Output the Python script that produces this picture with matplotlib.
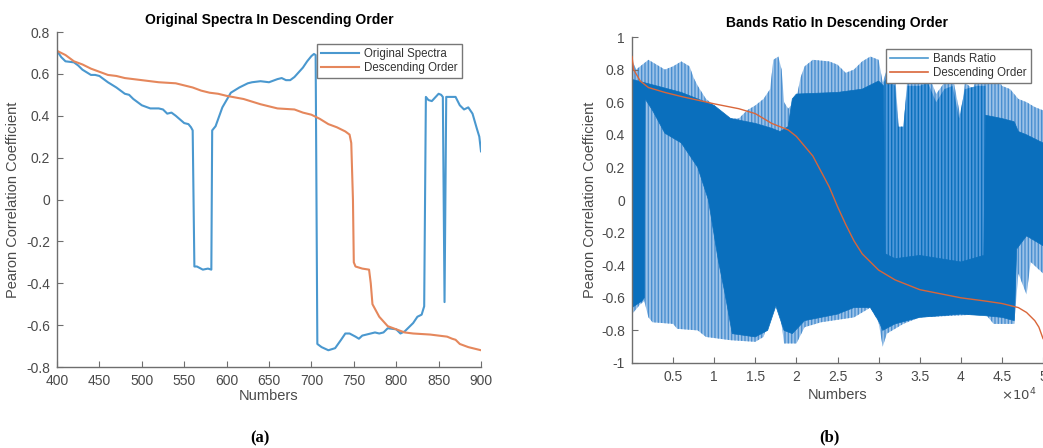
import numpy as np
import matplotlib
matplotlib.use("Agg")
import matplotlib.pyplot as plt
from matplotlib.lines import Line2D

plt.rcParams['font.family'] = ['Liberation Sans', 'DejaVu Sans']
plt.rcParams['hatch.linewidth'] = 1.0

# ---------------- data: panel (a) ----------------
orig_x = [400, 405, 410, 420, 425, 430, 440, 445, 450, 460, 470, 480, 485, 490, 500, 510, 520, 525,
          530, 535, 540, 550, 555, 558, 560, 562, 565, 572, 578, 582, 583, 587, 595, 605, 615, 625,
          630, 640, 650, 660, 665, 670, 675, 680, 690, 695, 700, 703, 705, 707, 712, 720, 728, 735,
          740, 745, 752, 756, 760, 770, 775, 780, 785, 790, 800, 805, 810, 820, 825, 830, 833, 835,
          838, 842, 850, 853, 855, 857, 859, 865, 870, 875, 880, 885, 890, 895, 898, 900]
orig_y = [0.71, 0.68, 0.66, 0.655, 0.64, 0.62, 0.595, 0.595, 0.59, 0.56, 0.535, 0.505, 0.50, 0.48,
          0.45, 0.435, 0.435, 0.43, 0.41, 0.415, 0.40, 0.365, 0.36, 0.345, 0.33, -0.32, -0.32, -0.335,
          -0.33, -0.335, 0.33, 0.35, 0.44, 0.51, 0.535, 0.555, 0.56, 0.565, 0.56, 0.575, 0.58, 0.57,
          0.57, 0.585, 0.63, 0.66, 0.685, 0.695, 0.69, -0.69, -0.705, -0.72, -0.71, -0.67, -0.64,
          -0.64, -0.655, -0.665, -0.65, -0.64, -0.635, -0.64, -0.635, -0.615, -0.62, -0.64, -0.63,
          -0.59, -0.56, -0.55, -0.51, 0.49, 0.475, 0.47, 0.505, 0.50, 0.49, -0.49, 0.49, 0.49, 0.49,
          0.45, 0.43, 0.44, 0.41, 0.34, 0.30, 0.23]

desc_x = [400, 410, 420, 430, 440, 450, 460, 470, 480, 500, 520, 540, 550, 560, 570, 580, 590, 600,
          620, 640, 660, 680, 690, 700, 710, 720, 730, 740, 745, 747, 749, 750, 752, 760, 768, 770,
          772, 776, 780, 790, 800, 810, 820, 840, 850, 860, 866, 870, 875, 885, 900]
desc_y = [0.71, 0.69, 0.66, 0.645, 0.625, 0.61, 0.595, 0.59, 0.58, 0.57, 0.56, 0.555, 0.545, 0.535,
          0.52, 0.51, 0.505, 0.495, 0.48, 0.455, 0.435, 0.43, 0.415, 0.405, 0.385, 0.36, 0.345, 0.325,
          0.31, 0.27, 0.0, -0.30, -0.32, -0.33, -0.335, -0.40, -0.50, -0.53, -0.56, -0.605, -0.62,
          -0.635, -0.64, -0.645, -0.65, -0.655, -0.665, -0.67, -0.69, -0.705, -0.72]

a_xticks = [400, 450, 500, 550, 600, 650, 700, 750, 800, 850, 900]
a_yticks = [-0.8, -0.6, -0.4, -0.2, 0, 0.2, 0.4, 0.6, 0.8]
a_yticklabels = ['-0.8', '-0.6', '-0.4', '-0.2', '0', '0.2', '0.4', '0.6', '0.8']

# ---------------- data: panel (b) (x in units of 10^4) ----------------
# outer (light striped) envelope of the Bands Ratio trace
light_up_x = [0, 0.05, 0.1, 0.2, 0.3, 0.4, 0.5, 0.6, 0.7, 0.75, 0.8, 0.9, 1.0, 1.1, 1.2, 1.3, 1.4, 1.5,
              1.6, 1.68, 1.72, 1.78, 1.82, 1.85, 1.9, 2.0, 2.05, 2.1, 2.2, 2.4, 2.5, 2.6, 2.7, 2.8, 2.9,
              3.0, 3.05, 3.1, 3.2, 3.25, 3.3, 3.35, 3.5, 3.6, 3.7, 3.8, 3.9, 4.0, 4.05, 4.15, 4.2, 4.3,
              4.4, 4.5, 4.6, 4.7, 4.8, 4.9, 5.0]
light_up_y = [0.86, 0.80, 0.82, 0.86, 0.83, 0.80, 0.82, 0.85, 0.82, 0.75, 0.70, 0.62, 0.58, 0.52, 0.50,
              0.50, 0.55, 0.58, 0.62, 0.68, 0.86, 0.88, 0.80, 0.60, 0.56, 0.62, 0.75, 0.82, 0.86, 0.85,
              0.83, 0.78, 0.80, 0.85, 0.88, 0.86, 0.72, 0.80, 0.78, 0.40, 0.42, 0.75, 0.75, 0.78, 0.65,
              0.72, 0.76, 0.50, 0.72, 0.68, 0.78, 0.75, 0.80, 0.70, 0.68, 0.62, 0.60, 0.57, 0.55]
light_lo_x = [0, 0.1, 0.15, 0.2, 0.25, 0.5, 0.55, 0.8, 0.9, 1.2, 1.5, 1.6, 1.7, 1.75, 1.8, 1.85, 2.0,
              2.1, 2.3, 2.7, 2.9, 3.0, 3.05, 3.1, 3.3, 3.5, 4.3, 4.4, 4.65, 4.7, 4.8, 4.85, 5.0]
light_lo_y = [-0.70, -0.64, -0.62, -0.72, -0.75, -0.76, -0.79, -0.80, -0.84, -0.86, -0.87, -0.84, -0.68,
              -0.62, -0.68, -0.88, -0.88, -0.78, -0.75, -0.72, -0.66, -0.75, -0.90, -0.82, -0.76,
              -0.72, -0.70, -0.76, -0.76, -0.45, -0.58, -0.38, -0.45]

# medium striped block of the trace between 3.06 and 4.3 (x10^4)
mid_up_x = [3.06, 3.1, 3.2, 3.24, 3.3, 3.35, 3.5, 3.6, 3.7, 3.8, 3.9, 3.98, 4.05, 4.2, 4.3]
mid_up_y = [0.72, 0.75, 0.70, 0.45, 0.45, 0.70, 0.70, 0.72, 0.60, 0.68, 0.70, 0.50, 0.68, 0.70, 0.70]
mid_lo_x = [3.06, 3.5, 4.0, 4.3]
mid_lo_y = [-0.46, -0.44, -0.48, -0.44]

# dense (dark) core of the trace
dark_up_x = [0, 0.3, 0.6, 0.8, 1.0, 1.1, 1.2, 1.5, 1.7, 1.8, 1.9, 1.95, 2.0, 2.5, 2.8, 3.0, 3.06, 3.08,
             3.2, 3.5, 4.0, 4.28, 4.3, 4.5, 4.65, 4.7, 4.8, 5.0]
dark_up_y = [0.74, 0.70, 0.66, 0.62, 0.58, 0.54, 0.50, 0.47, 0.44, 0.42, 0.45, 0.62, 0.65, 0.66, 0.68,
             0.73, 0.70, -0.33, -0.36, -0.34, -0.38, -0.34, 0.52, 0.50, 0.48, 0.42, 0.40, 0.35]
dark_lo_x = [0, 0.12, 0.15, 0.16, 0.25, 0.4, 0.6, 0.8, 0.93, 1.05, 1.13, 1.22, 1.5, 1.65, 1.75, 1.85,
             1.95, 2.1, 2.5, 2.7, 2.9, 3.0, 3.05, 3.2, 3.5, 4.0, 4.3, 4.5, 4.65, 4.68, 4.8, 5.0]
dark_lo_y = [-0.66, -0.62, -0.60, 0.62, 0.55, 0.41, 0.35, 0.20, 0.0, -0.37, -0.57, -0.82, -0.84, -0.80,
             -0.65, -0.80, -0.82, -0.74, -0.70, -0.66, -0.66, -0.74, -0.80, -0.76, -0.72, -0.70, -0.71,
             -0.72, -0.74, -0.30, -0.22, -0.28]

bdesc_x = [0, 0.02, 0.1, 0.2, 0.4, 0.6, 1.0, 1.3, 1.5, 1.7, 1.9, 2.0, 2.2, 2.4, 2.5, 2.6, 2.7, 2.8, 3.0,
           3.2, 3.5, 3.8, 4.0, 4.3, 4.5, 4.7, 4.8, 4.9, 4.95, 5.0]
bdesc_y = [0.88, 0.80, 0.73, 0.69, 0.66, 0.635, 0.59, 0.56, 0.53, 0.47, 0.43, 0.39, 0.27, 0.08, -0.04,
           -0.15, -0.25, -0.33, -0.43, -0.49, -0.55, -0.58, -0.60, -0.62, -0.635, -0.66, -0.69, -0.74,
           -0.78, -0.85]

b_xticks = [0.5, 1, 1.5, 2, 2.5, 3, 3.5, 4, 4.5, 5]
b_xticklabels = ['0.5', '1', '1.5', '2', '2.5', '3', '3.5', '4', '4.5', '5']
b_yticks = [-1, -0.8, -0.6, -0.4, -0.2, 0, 0.2, 0.4, 0.6, 0.8, 1]
b_yticklabels = ['-1', '-0.8', '-0.6', '-0.4', '-0.2', '0', '0.2', '0.4', '0.6', '0.8', '1']

SCALE = 1e4
BLUE = '#4a98cf'
ORANGE = '#e5875c'
DARK = '#0a6fbd'
AX_COL = '#6e6e6e'
TXT_COL = '#4a4a4a'

fig = plt.figure(figsize=(10.43, 4.48), dpi=100)


def style_axes(ax):
    for s in ['top', 'right']:
        ax.spines[s].set_visible(False)
    for s in ['left', 'bottom']:
        ax.spines[s].set_color(AX_COL)
        ax.spines[s].set_linewidth(1.0)
    ax.tick_params(direction='in', length=4, width=0.8, color=AX_COL, labelcolor=TXT_COL,
                   labelsize=10, pad=5)


def legend_style(ax, *args):
    leg = ax.legend(*args, loc='upper left', fontsize=8.3, frameon=True, fancybox=False,
                    framealpha=1, edgecolor='#777777', handlelength=3.3, borderpad=0.35,
                    labelspacing=0.2, handletextpad=0.45, borderaxespad=0)
    leg.get_frame().set_linewidth(1.0)
    for t in leg.get_texts():
        t.set_color('#333333')
    return leg


# ---------- panel (a) ----------
ax1 = fig.add_axes([57 / 1043, 1 - 367 / 448, (481 - 57) / 1043, (367 - 32) / 448])
ax1.plot(orig_x, orig_y, color=BLUE, lw=1.5, label='Original Spectra')
ax1.plot(desc_x, desc_y, color=ORANGE, lw=1.5, label='Descending Order')
ax1.set_xlim(400, 900)
ax1.set_ylim(-0.8, 0.8)
ax1.set_xticks(a_xticks)
ax1.set_yticks(a_yticks)
ax1.set_yticklabels(a_yticklabels)
style_axes(ax1)
ax1.set_title('Original Spectra In Descending Order', fontsize=10, fontweight='bold', pad=6)
ax1.set_xlabel('Numbers', fontsize=10.5, color=TXT_COL, labelpad=1)
ax1.set_ylabel('Pearon Correlation Coefficient', fontsize=10.5, color=TXT_COL, labelpad=4)
leg1 = legend_style(ax1)
leg1.set_bbox_to_anchor(((317 - 57) / 424, (367 - 44) / 335), transform=ax1.transAxes)

# ---------- panel (b) ----------
ax2 = fig.add_axes([632 / 1043, 1 - 363 / 448, (1043 - 632) / 1043, (363 - 37) / 448])


def poly(ax, ux, uy, lx, ly, **kw):
    ux = np.asarray(ux) * SCALE
    lx = np.asarray(lx) * SCALE
    ax.fill(np.concatenate([ux, lx[::-1]]), np.concatenate([uy, ly[::-1]]), **kw)


poly(ax2, light_up_x, light_up_y, light_lo_x, light_lo_y,
     facecolor='#9cc2e8', edgecolor='#4a8fd0', hatch='|||||', linewidth=0, zorder=1)
poly(ax2, mid_up_x, mid_up_y, mid_lo_x, mid_lo_y,
     facecolor='#4f98da', edgecolor='#0a6fbd', hatch='|||||', linewidth=0, zorder=1.5)
poly(ax2, dark_up_x, dark_up_y, dark_lo_x, dark_lo_y,
     facecolor=DARK, edgecolor=DARK, linewidth=0.5, zorder=2)
ax2.plot(np.array(bdesc_x) * SCALE, bdesc_y, color='#d9663a', lw=1.0, zorder=3)
ax2.set_xlim(0, 5 * SCALE)
ax2.set_ylim(-1, 1)
ax2.set_xticks(np.array(b_xticks) * SCALE)
ax2.set_xticklabels(b_xticklabels)
ax2.set_yticks(b_yticks)
ax2.set_yticklabels(b_yticklabels)
style_axes(ax2)
ax2.set_title('Bands Ratio In Descending Order', fontsize=10, fontweight='bold', pad=7)
ax2.set_xlabel('Numbers', fontsize=10.5, color=TXT_COL, labelpad=3)
ax2.set_ylabel('Pearon Correlation Coefficient', fontsize=10.5, color=TXT_COL, labelpad=3)
handles = [Line2D([], [], color='#4a98cf', lw=1.2), Line2D([], [], color='#d9663a', lw=1.2)]
leg2 = legend_style(ax2, handles, ['Bands Ratio', 'Descending Order'])
leg2.set_bbox_to_anchor(((886 - 632) / 411, (363 - 49) / 326), transform=ax2.transAxes)
fig.text(1019 / 1043, 1 - 395 / 448, r'$\times10^{4}$', fontsize=9.5, color=TXT_COL,
         ha='center', va='center')

# panel letters
fig.text(260 / 1043, 1 - 438 / 448, '(a)', fontsize=12, fontweight='bold',
         family='Liberation Serif', ha='center', va='center')
fig.text(829 / 1043, 1 - 437 / 448, '(b)', fontsize=12, fontweight='bold',
         family='Liberation Serif', ha='center', va='center')

fig.savefig('out.png', dpi=100)
